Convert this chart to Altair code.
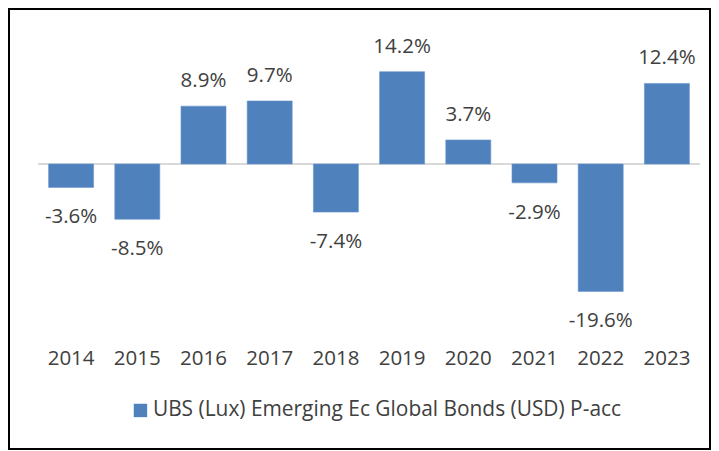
import altair as alt
import pandas as pd

years = ["2014", "2015", "2016", "2017", "2018", "2019", "2020", "2021", "2022", "2023"]
returns = [-3.6, -8.5, 8.9, 9.7, -7.4, 14.2, 3.7, -2.9, -19.6, 12.4]
series_name = "UBS (Lux) Emerging Ec Global Bonds (USD) P-acc"

df = pd.DataFrame({"year": years, "ret": returns, "series": [series_name] * len(years)})
df["label"] = [f"{v:.1f}%" for v in returns]

FONT = "Open Sans"
TXT = "#404040"
BLUE = "#4F81BD"

x_enc = alt.X("year:N", sort=years,
              scale=alt.Scale(paddingInner=0.32, paddingOuter=0.16),
              axis=alt.Axis(title=None, domain=False, ticks=False, labelAngle=0,
                            labelFont=FONT, labelFontSize=20.5, labelColor=TXT,
                            labelBaseline="middle", labelPadding=25))
y_scale = alt.Scale(domain=[-26, 22], nice=False, zero=False)

base = alt.Chart(df)

zero = alt.Chart(pd.DataFrame({"z": [0]})).mark_rule(color="#D9D9D9", strokeWidth=2).encode(
    y=alt.Y("z:Q", scale=y_scale, axis=None)
)

bars = base.mark_bar(color=BLUE, stroke="#6A96CC", strokeWidth=0.6).encode(
    x=x_enc,
    y=alt.Y("ret:Q", scale=y_scale, axis=None),
    y2=alt.datum(0),
    color=alt.Color("series:N",
                    scale=alt.Scale(range=[BLUE]),
                    legend=alt.Legend(title=None, orient="none", legendX=92, legendY=379,
                                      symbolType="square", symbolSize=180,
                                      symbolStrokeWidth=0, symbolOffset=0,
                                      labelFont=FONT, labelFontSize=20.9, labelColor=TXT,
                                      labelOffset=2, labelLimit=0)),
)

pos_lab = base.transform_filter("datum.ret >= 0").mark_text(
    font=FONT, fontSize=20.5, color=TXT, baseline="middle", dy=-25
).encode(x=alt.X("year:N", sort=years), y=alt.Y("ret:Q", scale=y_scale), text="label:N")

neg_lab = base.transform_filter("datum.ret < 0").mark_text(
    font=FONT, fontSize=20.5, color=TXT, baseline="middle", dy=30
).encode(x=alt.X("year:N", sort=years), y=alt.Y("ret:Q", scale=y_scale), text="label:N")

frame = alt.Chart(pd.DataFrame({"f": [0]})).mark_rect(
    filled=False, stroke="#000000", strokeWidth=2
).encode(x=alt.value(-29), x2=alt.value(672), y=alt.value(-12), y2=alt.value(428))

chart = alt.layer(zero, bars, pos_lab, neg_lab, frame).properties(
    width=662, height=312,
    background="white",
    autosize=alt.AutoSizeParams(type="none"),
    padding={"left": 30, "top": 13, "right": 11, "bottom": 118},
).configure_view(strokeWidth=0, stroke=None)

chart.save("out.html", embed_options={"renderer": "svg", "actions": False})
